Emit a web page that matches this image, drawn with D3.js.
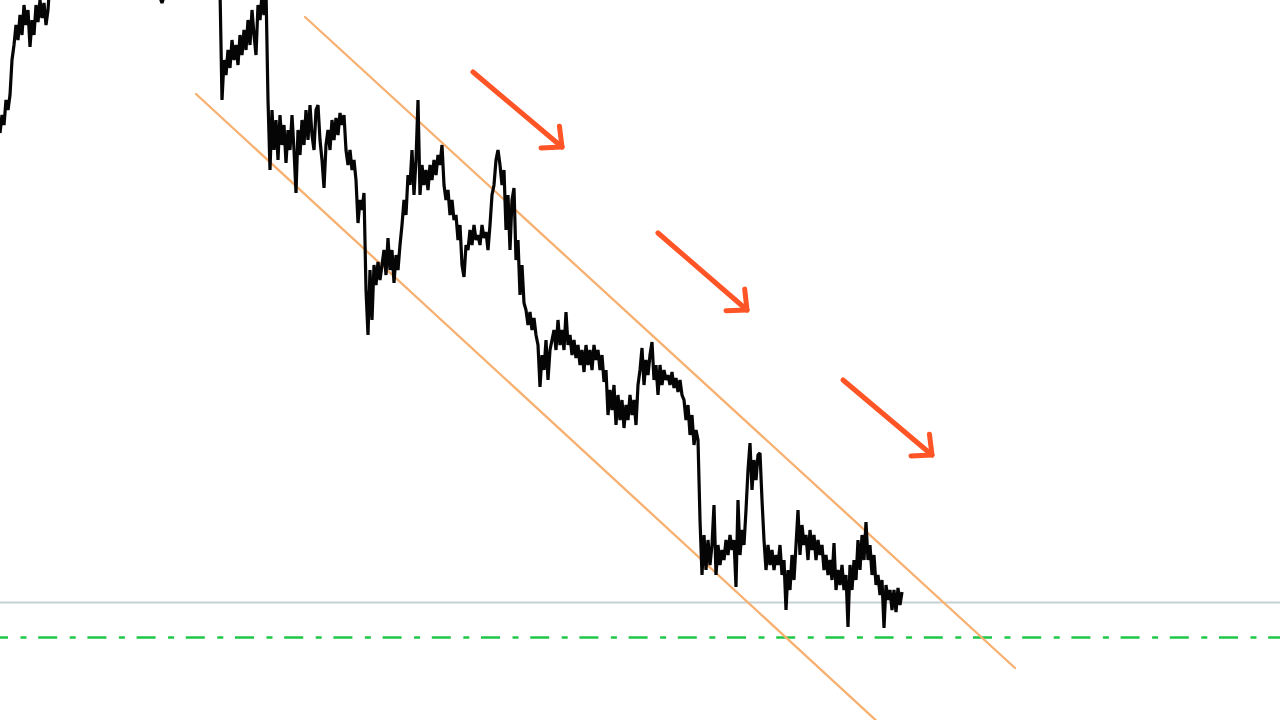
<!DOCTYPE html>
<html>
<head>
<meta charset="utf-8">
<script src="https://cdn.jsdelivr.net/npm/d3@7"></script>
<style>
  html, body { margin: 0; padding: 0; background: #ffffff; }
  svg { display: block; }
</style>
</head>
<body>
<svg id="chart" width="1280" height="720"></svg>
<script>
// ---- DATA (bar index, price level) ----
const pricePoints = [
  [0,587],[1,605],[2,595],[3,620],[4,610],[5,625],[6,660],[7,675],[8,695],[9,680],
  [10,705],[11,685],[12,715],[13,695],[14,710],[15,673],[16,700],[17,685],[18,715],[19,698],
  [20,720],[21,702],[22,717],[23,695],[24,710],[25,740],[30,760],[40,780],[50,770],[60,760],
  [70,750],[79,728],[81,717],[83,730],[90,750],[100,760],[109,740],[110,730],
  [111,620],[112,660],[113,645],[114,670],[115,652],[116,680],[117,660],[118,675],[119,655],
  [120,685],[121,665],[122,690],[123,670],[124,700],[125,675],[126,710],[127,685],[128,665],[129,715],
  [130,700],[131,725],[132,705],[133,730],[134,620],[135,550],[136,610],[137,570],[138,600],[139,560],
  [140,605],[141,575],[142,595],[143,557],[144,590],[145,570],[146,605],[147,570],[148,527],[149,590],
  [150,565],[151,600],[152,575],[153,610],[154,580],[155,615],[156,585],[157,570],[158,610],[159,615],
  [160,580],[161,560],[162,532],[163,575],[164,590],[165,570],[166,600],[167,580],[168,602],[169,585],
  [170,607],[171,595],[172,605],[173,570],[174,555],[175,570],[176,550],[177,560],[178,540],[179,497],
  [180,520],[181,510],[182,527],[183,430],[184,385],[185,450],[186,400],[187,455],[188,435],[189,458],
  [190,440],[191,455],[192,470],[193,445],[194,482],[195,450],[196,470],[197,437],[198,465],[199,450],
  [200,475],[201,495],[202,520],[203,505],[204,545],[205,535],[206,570],[207,525],[208,560],[209,620],
  [210,525],[211,555],[212,535],[213,550],[214,530],[215,555],[216,540],[217,560],[218,545],[219,565],
  [220,555],[221,575],[222,535],[223,520],[224,530],[225,505],[226,520],[227,500],[228,505],[229,480],
  [230,495],[231,455],[232,443],[233,475],[234,470],[235,490],[236,475],[237,495],[238,480],[239,485],
  [240,475],[241,495],[242,482],[243,488],[244,470],[245,495],[246,525],[247,535],[248,560],[249,570],
  [250,555],[251,535],[252,550],[253,490],[254,525],[255,470],[256,520],[257,532],[258,460],[259,480],
  [260,425],[261,455],[262,417],[263,410],[264,395],[265,408],[266,390],[267,402],[268,385],[269,375],
  [270,333],[271,365],[272,350],[273,380],[274,340],[275,370],[276,380],[277,390],[278,370],[279,400],
  [280,375],[281,390],[282,370],[283,408],[284,375],[285,385],[286,365],[287,380],[288,362],[289,375],
  [290,355],[291,370],[292,348],[293,375],[294,355],[295,370],[296,350],[297,375],[298,360],[299,370],
  [300,350],[301,365],[302,338],[303,350],[304,305],[305,330],[306,310],[307,335],[308,295],[309,325],
  [310,300],[311,320],[312,292],[313,315],[314,300],[315,325],[316,305],[317,320],[318,295],[319,335],
  [320,350],[321,372],[322,335],[323,360],[324,345],[325,365],[326,378],[327,340],[328,355],[329,325],
  [330,355],[331,335],[332,350],[333,340],[334,345],[335,335],[336,348],[337,332],[338,342],[339,328],
  [340,340],[341,325],[342,320],[343,300],[344,315],[345,285],[346,305],[347,275],[348,290],[349,280],
  [350,200],[351,145],[352,185],[353,150],[354,180],[355,155],[356,175],[357,215],[358,145],[359,175],
  [360,155],[361,170],[362,160],[363,180],[364,165],[365,185],[366,170],[367,180],[368,133],[369,220],
  [370,165],[371,190],[372,175],[373,210],[374,250],[375,277],[376,230],[377,260],[378,240],[379,265],
  [380,267],[381,220],[382,180],[383,150],[384,175],[385,155],[386,170],[387,150],[388,165],[389,155],
  [390,175],[391,145],[392,160],[393,110],[394,150],[395,130],[396,165],[397,140],[398,175],[399,210],
  [400,165],[401,195],[402,175],[403,185],[404,160],[405,190],[406,170],[407,185],[408,160],[409,180],
  [410,165],[411,175],[412,150],[413,165],[414,145],[415,160],[416,140],[417,177],[418,130],[419,150],
  [420,135],[421,155],[422,130],[423,145],[424,93],[425,155],[426,130],[427,160],[428,140],[429,180],
  [430,150],[431,185],[432,160],[433,198],[434,160],[435,175],[436,145],[437,165],[438,135],[439,145],
  [440,125],[441,140],[442,92],[443,135],[444,120],[445,130],[446,110],[447,130],[448,108],[449,132],
  [450,115],[451,128]
];

// channel lines: [startIndex, startPrice, endIndex, endPrice]
const channelUpper = [152.5, 703, 507.5, 52];
const channelLower = [98, 626, 440.5, -5];

// trend arrows: [startIndex, startPrice, tipIndex, tipPrice]
const trendArrows = [
  [236.5, 648, 281, 573],
  [329, 487, 373.5, 410],
  [421.5, 340, 466, 265]
];

// horizontal levels
const levelGray = 117.5;
const levelGreen = 82.5;

// ---- CHART ----
const W = 1280, H = 720;
const svg = d3.select("#chart");

const x = d3.scaleLinear().domain([0, 640]).range([0, W]);
const y = d3.scaleLinear().domain([0, 720]).range([H, 0]);

svg.append("defs").append("clipPath").attr("id", "clip")
  .append("rect").attr("x", 0).attr("y", 0).attr("width", W).attr("height", H);

const g = svg.append("g").attr("clip-path", "url(#clip)");

// gray level
g.append("line")
  .attr("x1", 0).attr("x2", W)
  .attr("y1", y(levelGray)).attr("y2", y(levelGray))
  .attr("stroke", "#c6d0d3").attr("stroke-width", 2);

// green dash-dot level
g.append("line")
  .attr("x1", 0).attr("x2", W)
  .attr("y1", y(levelGreen)).attr("y2", y(levelGreen))
  .attr("stroke", "#1ec846").attr("stroke-width", 2.5)
  .attr("stroke-dasharray", "19,12.5,6,11.7")
  .attr("stroke-dashoffset", 11);

// channel lines
[channelUpper, channelLower].forEach(c => {
  g.append("line")
    .attr("x1", x(c[0])).attr("y1", y(c[1]))
    .attr("x2", x(c[2])).attr("y2", y(c[3]))
    .attr("stroke", "#f7b070").attr("stroke-width", 2.3)
    .attr("stroke-linecap", "round");
});

// price line
const line = d3.line().x(d => x(d[0])).y(d => y(d[1]));
g.append("path")
  .datum(pricePoints)
  .attr("d", line)
  .attr("fill", "none")
  .attr("stroke", "#050505")
  .attr("stroke-width", 3.2)
  .attr("stroke-linejoin", "miter")
  .attr("stroke-miterlimit", 1.5);

// arrows
const headLen = 21, headAng = Math.PI / 4.2;
trendArrows.forEach(a => {
  const x0 = x(a[0]), y0 = y(a[1]), x1 = x(a[2]), y1 = y(a[3]);
  const ang = Math.atan2(y1 - y0, x1 - x0);
  const back = ang + Math.PI;
  const p1 = [x1 + headLen * Math.cos(back - headAng), y1 + headLen * Math.sin(back - headAng)];
  const p2 = [x1 + headLen * Math.cos(back + headAng), y1 + headLen * Math.sin(back + headAng)];
  const grp = g.append("g")
    .attr("stroke", "#ff5526").attr("stroke-width", 5)
    .attr("fill", "none").attr("stroke-linecap", "round").attr("stroke-linejoin", "round");
  grp.append("line").attr("x1", x0).attr("y1", y0).attr("x2", x1).attr("y2", y1);
  grp.append("path").attr("d", `M${p1[0]},${p1[1]}L${x1},${y1}L${p2[0]},${p2[1]}`);
});
</script>
</body>
</html>
